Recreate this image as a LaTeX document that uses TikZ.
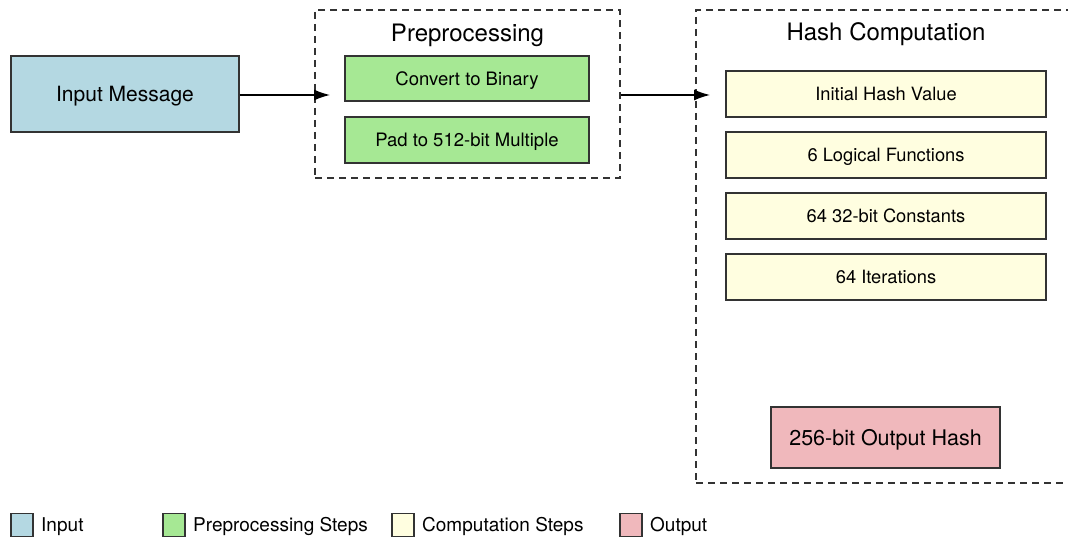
\documentclass[tikz,border=0pt]{standalone}
\usepackage{fontspec}
\setmainfont{TeX Gyre Heros}
\usetikzlibrary{arrows.meta}

\definecolor{inblue}{RGB}{180,216,226}
\definecolor{prepgreen}{RGB}{166,232,148}
\definecolor{compyellow}{RGB}{255,254,224}
\definecolor{outpink}{RGB}{240,184,188}
\definecolor{edgegray}{RGB}{51,51,51}

% capcenter=<cap height>: centre the capitals of a label on its node
\tikzset{
  capcenter/.style={text height=#1, text depth=0pt},
  box/.style={draw=edgegray, line width=1.3pt, rectangle, inner sep=0pt, anchor=center},
  inputbox/.style={box, fill=inblue, minimum width=228pt, minimum height=76pt, font=\fontsize{21}{25}\selectfont, capcenter=15.1pt},
  prepbox/.style={box, fill=prepgreen, minimum width=244pt, minimum height=45pt, font=\fontsize{18.5}{22}\selectfont, capcenter=13.3pt},
  compbox/.style={box, fill=compyellow, minimum width=320pt, minimum height=46pt, font=\fontsize{18.3}{22}\selectfont, capcenter=13.2pt},
  outbox/.style={box, fill=outpink, minimum width=229pt, minimum height=61pt, font=\fontsize{21.5}{25}\selectfont, capcenter=15.5pt},
  cluster/.style={draw=edgegray, line width=1.2pt, dash pattern=on 7pt off 5pt, rectangle, inner sep=0pt},
  clustertitle/.style={font=\fontsize{24}{28}\selectfont, inner sep=0pt, capcenter=17.3pt},
  flow/.style={draw=black, line width=1.3pt, -{Latex[length=16pt,width=11pt]}},
  swatch/.style={draw=edgegray, line width=1.2pt, rectangle, inner sep=0pt, minimum width=22pt, minimum height=23pt},
  legendtext/.style={font=\fontsize{19}{23}\selectfont, inner sep=0pt, anchor=west, capcenter=13.7pt}
}

\begin{document}
\begin{tikzpicture}[x=1pt,y=-1pt]
  \useasboundingbox (0,0) rectangle (1068,537);
  \clip (0,0) rectangle (1068,537);

  % input
  \node[inputbox] (input) at (125,94) {Input Message};

  % preprocessing group
  \node[cluster, minimum width=305pt, minimum height=168pt] (prep) at (467.5,94) {};
  \node[clustertitle] (preptitle) at (467.5,33) {Preprocessing};
  \node[prepbox] (binary) at (467,78.5) {Convert to Binary};
  \node[prepbox, minimum height=46pt] (pad) at (467,140) {Pad to 512-bit Multiple};

  % hash computation group
  \node[cluster, minimum width=384pt, minimum height=473pt] (hash) at (888,246.5) {};
  \node[clustertitle] (hashtitle) at (886,32) {Hash Computation};
  \node[compbox] (init) at (886,94) {Initial Hash Value};
  \node[compbox] (logic) at (886,155) {6 Logical Functions};
  \node[compbox] (consts) at (886,216) {64 32-bit Constants};
  \node[compbox] (iter) at (886,277) {64 Iterations};
  \node[outbox] (out) at (885.5,437.5) {256-bit Output Hash};

  % connectors between the groups
  \coordinate (prepin) at (330,95);
  \coordinate (hashin) at (710,95);
  \draw[flow] (input.east |- prepin) -- (prepin);
  \draw[flow] (prep.east |- hashin) -- (hashin);

  % legend
  \node[swatch, fill=inblue] (lgin) at (22,525) {};
  \node[legendtext] (lginT) at (41,525) {Input};
  \node[swatch, fill=prepgreen] (lgprep) at (174,525) {};
  \node[legendtext] (lgprepT) at (193,525) {Preprocessing Steps};
  \node[swatch, fill=compyellow] (lgcomp) at (403,525) {};
  \node[legendtext] (lgcompT) at (422,525) {Computation Steps};
  \node[swatch, fill=outpink] (lgout) at (631,525) {};
  \node[legendtext] (lgoutT) at (650,525) {Output};
\end{tikzpicture}
\end{document}
